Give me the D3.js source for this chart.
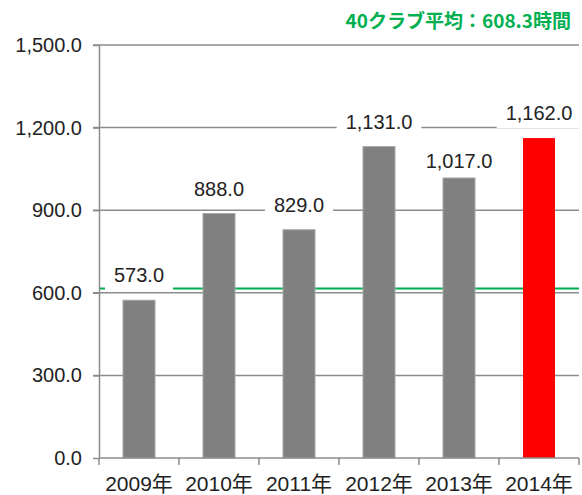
<!DOCTYPE html>
<html>
<head>
<meta charset="utf-8">
<script src="https://cdn.jsdelivr.net/npm/d3@7"></script>
<style>
  body { margin: 0; background: #fff; }
  svg text { font-family: "Liberation Sans", Arial, "Noto Sans CJK JP", sans-serif; }
</style>
</head>
<body>
<div id="chart"></div>
<script>
var years = ['2009年', '2010年', '2011年', '2012年', '2013年', '2014年'];
var hours = [573.0, 888.0, 829.0, 1131.0, 1017.0, 1162.0];
var barColors = ['#808080', '#808080', '#808080', '#808080', '#808080', '#ff0000'];
var yTicks = [0, 300, 600, 900, 1200, 1500];
var clubAverage = 608.3;
var titleText = '40クラブ平均：608.3時間';
// small nudges so labels sit where the original put them
var labelNudge = [0, 0, 0, 0, 8, 0];

var width = 582, height = 495;
var margin = { top: 45, right: 3, bottom: 37, left: 99 };

var svg = d3.select('#chart').append('svg')
  .attr('width', width)
  .attr('height', height);

var x = d3.scaleBand()
  .domain(years)
  .range([margin.left, width - margin.right])
  .paddingInner(0.6)
  .paddingOuter(0.3);

var y = d3.scaleLinear()
  .domain([0, 1500])
  .range([height - margin.bottom, margin.top]);

// gridlines
svg.append('g')
  .selectAll('line')
  .data(yTicks.slice(1))
  .enter()
  .append('line')
  .attr('x1', margin.left - 6)
  .attr('x2', width - margin.right)
  .attr('y1', (d) => y(d))
  .attr('y2', (d) => y(d))
  .attr('stroke', '#8c8c8c')
  .attr('stroke-width', 1.5);

// average line
svg.append('line')
  .attr('x1', margin.left)
  .attr('x2', width - margin.right)
  .attr('y1', y(clubAverage) - 2)
  .attr('y2', y(clubAverage) - 2)
  .attr('stroke', '#00b050')
  .attr('stroke-width', 2);

// y axis
var yAxis = svg.append('g')
  .attr('transform', `translate(${margin.left},0)`)
  .call(d3.axisLeft(y).tickValues(yTicks).tickSize(6).tickSizeOuter(0).tickFormat(d3.format(',.1f')));
yAxis.selectAll('path, line').attr('stroke', '#8c8c8c').attr('stroke-width', 1.5);
yAxis.selectAll('text')
  .attr('font-size', 20)
  .attr('fill', '#222')
  .attr('x', -17)
  .attr('font-family', '"Liberation Sans", Arial, sans-serif');

// bars
svg.append('g')
  .selectAll('rect')
  .data(hours)
  .enter()
  .append('rect')
  .attr('x', (d, i) => x(years[i]))
  .attr('y', (d) => y(d))
  .attr('width', x.bandwidth())
  .attr('height', (d) => y(0) - y(d))
  .attr('fill', (d, i) => barColors[i])
  .attr('stroke', (d, i) => (i < 5 ? '#a6a6a6' : 'none'))
  .attr('stroke-width', 1);

// x axis
var xAxis = svg.append('g');
xAxis.append('line')
  .attr('x1', margin.left)
  .attr('x2', width - margin.right)
  .attr('y1', y(0))
  .attr('y2', y(0))
  .attr('stroke', '#8c8c8c')
  .attr('stroke-width', 1.5);
xAxis.selectAll('line.tick')
  .data(d3.range(years.length + 1))
  .enter()
  .append('line')
  .attr('class', 'tick')
  .attr('x1', (d) => margin.left + d * (width - margin.right - margin.left) / years.length)
  .attr('x2', (d) => margin.left + d * (width - margin.right - margin.left) / years.length)
  .attr('y1', y(0))
  .attr('y2', y(0) + 7)
  .attr('stroke', '#8c8c8c')
  .attr('stroke-width', 1.5);
xAxis.selectAll('text')
  .data(years)
  .enter()
  .append('text')
  .attr('x', (d) => x(d) + x.bandwidth() / 2)
  .attr('y', y(0) + 33)
  .attr('text-anchor', 'middle')
  .attr('font-size', 21)
  .attr('fill', '#222')
  .text((d) => d);

// value labels with white boxes
var labels = svg.append('g')
  .selectAll('g')
  .data(hours)
  .enter()
  .append('g');

labels.append('text')
  .attr('x', (d, i) => x(years[i]) + x.bandwidth() / 2)
  .attr('y', (d, i) => y(d) - 18 + labelNudge[i])
  .attr('text-anchor', 'middle')
  .attr('font-size', 20)
  .attr('fill', '#222')
  .text((d) => d3.format(',.1f')(d));

labels.each(function () {
  var g = d3.select(this);
  var t = g.select('text');
  var bb = t.node().getBBox();
  var base = +t.attr('y');
  g.insert('rect', 'text')
    .attr('x', bb.x - 9)
    .attr('y', base - 19)
    .attr('width', bb.width + 18)
    .attr('height', 27)
    .attr('fill', '#fff');
});

// title
svg.append('text')
  .attr('x', 571)
  .attr('y', 28)
  .attr('text-anchor', 'end')
  .attr('font-size', 19)
  .attr('font-weight', 'bold')
  .attr('fill', '#00b050')
  .style('font-family', '"Noto Sans CJK JP", sans-serif')
  .text(titleText);
</script>
</body>
</html>
